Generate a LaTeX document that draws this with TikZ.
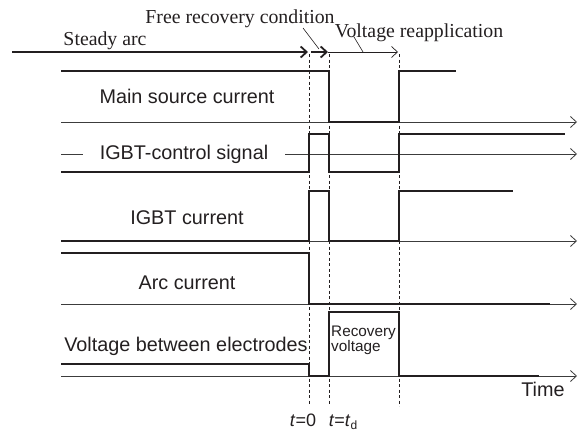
\documentclass[tikz,border=0pt]{standalone}
\usepackage{fontspec}
\setmainfont{Liberation Sans}
\newfontfamily\timesfont{Liberation Serif}
\usetikzlibrary{arrows.meta}
\definecolor{ink}{HTML}{231F20}
\definecolor{axisgray}{HTML}{3C3C3C}
\tikzset{
  axisline/.style={draw=axisgray, line width=0.8pt,
    -{Straight Barb[length=6pt,width=11pt,line width=0.8pt]}},
  axisplain/.style={draw=axisgray, line width=0.8pt},
  wave/.style={draw=ink, line width=1.8pt, line join=miter},
  marker/.style={draw=ink, line width=0.7pt, dash pattern=on 3pt off 2.5pt},
  phasebold/.style={draw=ink, line width=1.8pt,
    -{Straight Barb[length=6pt,width=11pt,line width=1.8pt]}},
  phasethin/.style={draw=ink, line width=0.7pt,
    -{Straight Barb[length=6pt,width=11pt,line width=0.7pt]}},
  leader/.style={draw=ink, line width=0.6pt},
  siglabel/.style={text=ink, font=\fontsize{19.8}{22}\selectfont, anchor=base, inner sep=0pt},
  phaselabel/.style={text=ink, font=\timesfont\fontsize{19.8}{22}\selectfont, anchor=base, inner sep=0pt},
  smalllabel/.style={text=ink, font=\fontsize{15.3}{15}\selectfont, anchor=base west, inner sep=0pt},
  timelabel/.style={text=ink, font=\fontsize{18}{20}\selectfont, anchor=base, inner sep=0pt},
}
\newcommand{\subd}{\raisebox{-3pt}{\fontsize{12}{12}\selectfont d}}
\begin{document}
\begin{tikzpicture}[x=1pt, y=-1pt]
  \useasboundingbox (0,0) rectangle (583,432);

  % time instants: t = 0, t = t_d and voltage reapplication
  \coordinate (T0) at (309,0);
  \coordinate (TD) at (329,0);
  \coordinate (TR) at (399,0);

  % phase arrows along the top
  \coordinate (sa0) at (12,52);
  \coordinate (sa1) at (308,52);
  \coordinate (fr0) at (311,52);
  \coordinate (fr1) at (328,52);
  \coordinate (vr1) at (398,52);
  \draw[phasebold] (sa0) -- (sa1);
  \draw[phasebold] (fr0) -- (fr1);
  \draw[phasethin] (fr1) -- (vr1);

  \node[phaselabel] (steady) at (105,45) {Steady arc};
  \node[phaselabel] (frc) at (240,23) {Free recovery condition};
  \node[phaselabel] (vra) at (419,37.5) {Voltage reapplication};

  \coordinate (frcA) at (303,28);
  \coordinate (frcB) at (319,49);
  \coordinate (vraA) at (354,37);
  \coordinate (vraB) at (363,52);
  \draw[leader] (frcA) -- (frcB);
  \draw[leader] (vraA) -- (vraB);

  % dashed time markers
  \draw[marker] (T0 |- 0,54) -- (T0 |- 0,405);
  \draw[marker] (TD |- 0,54) -- (TD |- 0,405);
  \draw[marker] (TR |- 0,54) -- (TR |- 0,406);

  % main source current
  \coordinate (a1) at (61,122);
  \coordinate (a1e) at (577,122);
  \draw[axisline] (a1) -- (a1e);
  \draw[wave] (61,71) -- (TD |- 0,71) -- (TD |- 0,122) -- (TR |- 0,122)
              -- (TR |- 0,71) -- (456,71);
  \node[siglabel] (mainlbl) at (187,103) {Main source current};

  % IGBT-control signal
  \node[siglabel, inner xsep=17pt] (ctl) at (184,159.5) {IGBT-control signal};
  \coordinate (a2) at (61,154);
  \coordinate (a2e) at (577,154);
  \draw[axisplain] (a2) -- (a2 -| ctl.west);
  \draw[axisline] (a2 -| ctl.east) -- (a2e);
  \draw[wave] (61,172) -- (T0 |- 0,172) -- (T0 |- 0,134) -- (TD |- 0,134)
              -- (TD |- 0,172) -- (TR |- 0,172) -- (TR |- 0,134) -- (565,134);

  % IGBT current
  \coordinate (a3) at (61,241);
  \coordinate (a3e) at (577,241);
  \draw[axisline] (a3) -- (a3e);
  \draw[wave] (61,241) -- (T0 |- 0,241) -- (T0 |- 0,191) -- (TD |- 0,191)
              -- (TD |- 0,241) -- (TR |- 0,241) -- (TR |- 0,191) -- (513,191);
  \node[siglabel] (igbtlbl) at (187,224) {IGBT current};

  % arc current
  \coordinate (a4) at (61,304);
  \coordinate (a4e) at (577,304);
  \draw[axisline] (a4) -- (a4e);
  \draw[wave] (61,253) -- (T0 |- 0,253) -- (T0 |- 0,304) -- (550,304);
  \node[siglabel] (arclbl) at (187,289) {Arc current};

  % voltage between electrodes
  \coordinate (a5) at (61,376);
  \coordinate (a5e) at (577,376);
  \draw[axisline] (a5) -- (a5e);
  \draw[wave] (61,364) -- (T0 |- 0,364) -- (T0 |- 0,376) -- (TD |- 0,376)
              -- (TD |- 0,312) -- (TR |- 0,312) -- (TR |- 0,376) -- (539,376);
  \node[siglabel] (voltlbl) at (186,351) {Voltage between electrodes};
  \node[smalllabel] (rec1) at (331,336) {Recovery};
  \node[smalllabel] (rec2) at (331,351) {voltage};

  % time axis labels
  \node[siglabel] (timelbl) at (543,396) {Time};
  \node[timelabel] (t0lbl) at (303,426.5) {\textit{t}=0};
  \node[timelabel] (tdlbl) at (343,426.5) {\textit{t}=\textit{t}\subd};
\end{tikzpicture}
\end{document}
